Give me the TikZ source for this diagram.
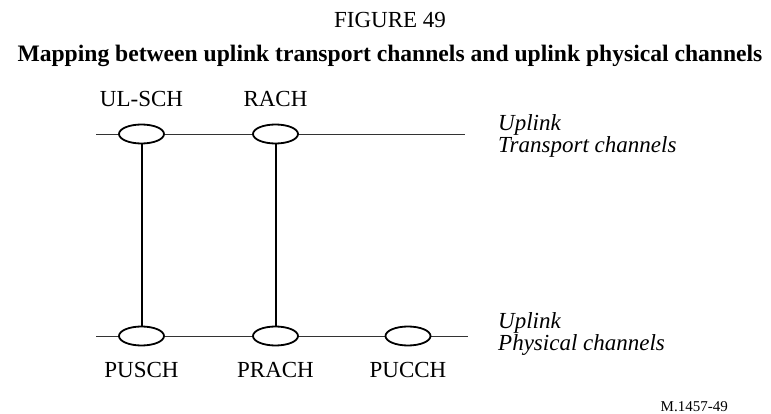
\documentclass[tikz,border=0pt]{standalone}
\usepackage{fontspec}
\setmainfont{Liberation Serif}
\usetikzlibrary{shapes.geometric}
\begin{document}
\begin{tikzpicture}[x=1pt,y=-1pt,
  chan/.style={draw=black,line width=1.8pt,ellipse,minimum width=45pt,minimum height=19pt,inner sep=0pt,fill=white},
  lbl/.style={font=\fontsize{23}{26}\selectfont,inner sep=0pt,anchor=base},
  side/.style={font=\fontsize{23}{26}\selectfont\itshape,inner sep=0pt,anchor=base west},
  hline/.style={line width=0.9pt,draw=black!80},
  vline/.style={line width=2pt}]
\useasboundingbox (0,0) rectangle (771,414);
\node[lbl] (fig) at (390,28) {FIGURE 49};
\node[lbl,font=\fontsize{23.6}{26}\selectfont\bfseries] (title) at (390,62) {Mapping between uplink transport channels and uplink physical channels};
% lines
\coordinate (tl) at (96,134);
\coordinate (tr) at (465,134);
\coordinate (bl) at (96,336);
\coordinate (br) at (468,336);
\draw[hline] (tl) -- (tr);
\draw[hline] (bl) -- (br);
% channels
\node[chan] (ulsch) at (141.5,134) {};
\node[chan] (rach) at (275.5,134) {};
\node[chan] (pusch) at (141.5,336) {};
\node[chan] (prach) at (275.5,336) {};
\node[chan] (pucch) at (408,336) {};
\draw[vline] (ulsch.south) -- (pusch.north);
\draw[vline] (rach.south) -- (prach.north);
% labels
\node[lbl] (tulsch) at (141.5,107) {UL-SCH};
\node[lbl] (trach) at (275.5,107) {RACH};
\node[lbl] (tpusch) at (141.5,377) {PUSCH};
\node[lbl] (tprach) at (275.5,377) {PRACH};
\node[lbl] (tpucch) at (408,377) {PUCCH};
\node[side] (up1) at (498,131) {Uplink};
\node[side] (tc) at (498,153) {Transport channels};
\node[side] (up2) at (498,328) {Uplink};
\node[side] (pc) at (498,350) {Physical channels};
\node[font=\fontsize{15}{17}\selectfont,inner sep=0pt,anchor=base east] (mref) at (728,411) {M.1457-49};
\end{tikzpicture}
\end{document}
